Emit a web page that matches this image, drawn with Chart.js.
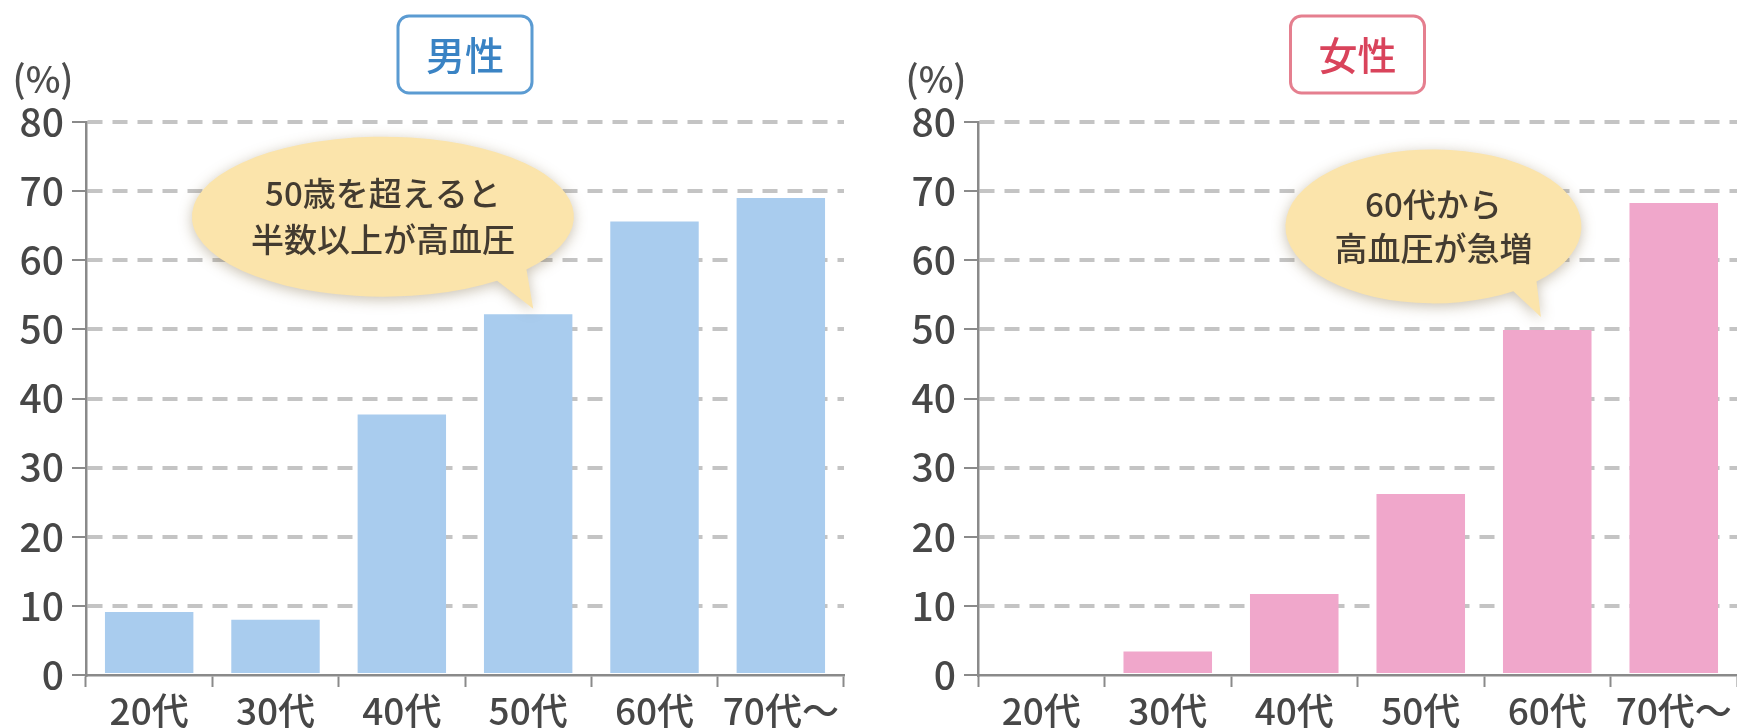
<!DOCTYPE html>
<html lang="ja">
<head>
<meta charset="utf-8">
<title>高血圧の割合（男性・女性）</title>
<script src="https://cdn.jsdelivr.net/npm/chart.js@4.4.1/dist/chart.umd.min.js"></script>
<style>
  html, body { margin: 0; padding: 0; background: #fff; }
  body { width: 1737px; height: 728px; position: relative; overflow: hidden; }
  .panel { position: absolute; top: 0; height: 728px; }
  #malePanel { left: 0; width: 870px; }
  #femalePanel { left: 870px; width: 867px; }
</style>
</head>
<body>
<div class="panel" id="malePanel"><canvas id="maleChart" width="870" height="728"></canvas></div>
<div class="panel" id="femalePanel"><canvas id="femaleChart" width="867" height="728"></canvas></div>

<script>
// 年代（横軸）
const categories = ['20代', '30代', '40代', '50代', '60代', '70代〜'];

// 高血圧の割合（%）
const maleRates = [9.1, 8.0, 37.7, 52.2, 65.6, 69.0];
const femaleRates = [0, 3.4, 11.7, 26.2, 49.9, 68.3];

// 縦軸の目盛り
const yMin = 0;
const yMax = 80;
const yStep = 10;

// 吹き出しの文
const maleNote = ['50歳を超えると', '半数以上が高血圧'];
const femaleNote = ['60代から', '高血圧が急増'];

const FONT = '"Noto Sans CJK JP", "Noto Sans", sans-serif';

// タイトル枠・(%)・吹き出しを描くプラグイン
const decorPlugin = {
    id: 'decor',
    afterDraw(chart, args, opts) {
        const ctx = chart.ctx;
        const area = chart.chartArea;
        const x = chart.scales.x;
        const y = chart.scales.y;

        // (%) ラベル
        ctx.save();
        ctx.font = '500 37px ' + FONT;
        ctx.fillStyle = '#4d4d4d';
        ctx.textAlign = 'center';
        ctx.textBaseline = 'middle';
        ctx.fillText('(%)', area.left - opts.unitShift, 79);
        ctx.restore();

        // タイトル枠
        const cx = (area.left + area.right) / 2;
        const bw = 134, bh = 77;
        ctx.save();
        ctx.beginPath();
        ctx.roundRect(cx - bw / 2, 16, bw, bh, 11);
        ctx.fillStyle = '#fff';
        ctx.fill();
        ctx.lineWidth = 3;
        ctx.strokeStyle = opts.boxColor;
        ctx.stroke();
        ctx.font = '500 39px ' + FONT;
        ctx.fillStyle = opts.titleColor;
        ctx.textAlign = 'center';
        ctx.textBaseline = 'middle';
        ctx.fillText(opts.title, cx, 55);
        ctx.restore();

        // 吹き出し
        const b = opts.bubble;
        const bx = x.getPixelForValue(b.at[0]);
        const by = y.getPixelForValue(b.at[1]);
        const tx = x.getPixelForValue(b.tip[0]);
        const ty = y.getPixelForValue(b.tip[1]);
        ctx.save();
        ctx.beginPath();
        ctx.ellipse(bx, by, b.rx, b.ry, 0, b.a0, b.a1 + Math.PI * 2);
        ctx.lineTo(tx, ty);
        ctx.closePath();
        ctx.shadowColor = 'rgba(120, 100, 60, 0.4)';
        ctx.shadowBlur = 14;
        ctx.shadowOffsetY = 3;
        ctx.fillStyle = '#fbe4ab';
        ctx.fill();
        ctx.restore();

        ctx.save();
        ctx.font = '500 33px ' + FONT;
        ctx.fillStyle = '#433b30';
        ctx.textAlign = 'center';
        ctx.textBaseline = 'middle';
        const gap = b.lineGap;
        b.lines.forEach((line, i) => {
            ctx.fillText(line, bx, by + (i - (b.lines.length - 1) / 2) * gap);
        });
        ctx.restore();
    }
};

// 1枚分のグラフを作る
function makeChart(canvasId, values, barColor, yWidth, rightPad, decor) {
    const ctx = document.getElementById(canvasId).getContext('2d');
    return new Chart(ctx, {
        type: 'bar',
        data: {
            labels: categories,
            datasets: [{
                data: values,
                backgroundColor: barColor,
                borderWidth: 0,
                categoryPercentage: 1.0,
                barPercentage: 0.7
            }]
        },
        options: {
            responsive: false,
            animation: false,
            devicePixelRatio: 1,
            layout: { padding: { top: 122, right: rightPad, bottom: 0, left: 0 } },
            plugins: {
                legend: { display: false },
                tooltip: { enabled: false },
                decor: decor
            },
            scales: {
                x: {
                    offset: true,
                    grid: {
                        offset: true,
                        drawOnChartArea: false,
                        drawTicks: true,
                        tickLength: 12,
                        tickColor: '#8a8a8a',
                        tickWidth: 2
                    },
                    border: { display: true, color: '#8a8a8a', width: 2.5, z: 1 },
                    ticks: {
                        color: '#474747',
                        font: { family: FONT, size: 37, weight: '500' },
                        padding: 2,
                        maxRotation: 0,
                        autoSkip: false
                    },
                    afterFit: s => { s.height = 53; }
                },
                y: {
                    min: yMin,
                    max: yMax,
                    grid: {
                        color: c => (c.tick && c.tick.value === 0 ? 'rgba(0,0,0,0)' : '#c4c4c4'),
                        lineWidth: 4,
                        drawTicks: true,
                        tickLength: 14,
                        tickColor: '#8a8a8a',
                        tickWidth: 2
                    },
                    border: { display: true, color: '#8a8a8a', width: 2.5, dash: [15, 10] },
                    ticks: {
                        stepSize: yStep,
                        color: '#474747',
                        font: { family: FONT, size: 39, weight: '500' },
                        padding: 8
                    },
                    afterFit: s => { s.width = yWidth; }
                }
            }
        },
        plugins: [decorPlugin]
    });
}

window.onload = function () {
    makeChart('maleChart', maleRates, '#a9ccee', 86, 26, {
        title: '男性',
        titleColor: '#3a83c4',
        boxColor: '#5b9bd2',
        unitShift: 43,
        bubble: { lines: maleNote, at: [1.85, 66.3], tip: [3.04, 53.0], rx: 191, ry: 80, a0: 0.93, a1: 0.72, lineGap: 46 }
    });
    makeChart('femaleChart', femaleRates, '#f0a7cb', 108, 0, {
        title: '女性',
        titleColor: '#d9435b',
        boxColor: '#e57f8f',
        unitShift: 42,
        bubble: { lines: femaleNote, at: [3.1, 64.9], tip: [3.95, 51.8], rx: 148, ry: 77, a0: 1.0, a1: 0.8, lineGap: 44 }
    });
};
</script>
</body>
</html>
